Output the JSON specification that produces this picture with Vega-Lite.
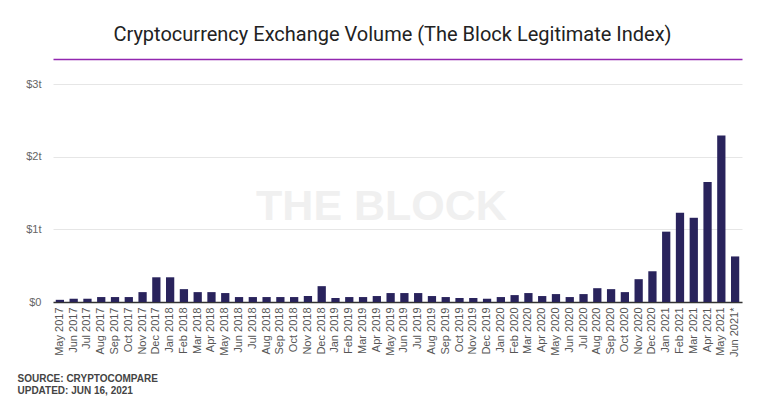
{
  "$schema": "https://vega.github.io/schema/vega-lite/v6.json",
  "autosize": {"type": "none"},
  "width": 689,
  "height": 218,
  "padding": {"left": 53, "top": 84, "right": 19, "bottom": 95},
  "background": "white",
  "title": {
    "text": "Cryptocurrency Exchange Volume (The Block Legitimate Index)",
    "anchor": "middle",
    "dx": -5,
    "offset": 14,
    "font": "Roboto",
    "fontSize": 20,
    "fontWeight": "normal",
    "color": "#222222"
  },
  "config": {
    "view": {"stroke": null},
    "font": "Liberation Sans"
  },
  "datasets": {
    "vol": [
      {"month": "May 2017", "v": 0.03},
      {"month": "Jun 2017", "v": 0.045},
      {"month": "Jul 2017", "v": 0.045},
      {"month": "Aug 2017", "v": 0.068},
      {"month": "Sep 2017", "v": 0.068},
      {"month": "Oct 2017", "v": 0.068},
      {"month": "Nov 2017", "v": 0.136},
      {"month": "Dec 2017", "v": 0.34},
      {"month": "Jan 2018", "v": 0.34},
      {"month": "Feb 2018", "v": 0.177},
      {"month": "Mar 2018", "v": 0.136},
      {"month": "Apr 2018", "v": 0.136},
      {"month": "May 2018", "v": 0.123},
      {"month": "Jun 2018", "v": 0.068},
      {"month": "Jul 2018", "v": 0.068},
      {"month": "Aug 2018", "v": 0.068},
      {"month": "Sep 2018", "v": 0.068},
      {"month": "Oct 2018", "v": 0.068},
      {"month": "Nov 2018", "v": 0.082},
      {"month": "Dec 2018", "v": 0.218},
      {"month": "Jan 2019", "v": 0.055},
      {"month": "Feb 2019", "v": 0.068},
      {"month": "Mar 2019", "v": 0.068},
      {"month": "Apr 2019", "v": 0.082},
      {"month": "May 2019", "v": 0.123},
      {"month": "Jun 2019", "v": 0.123},
      {"month": "Jul 2019", "v": 0.123},
      {"month": "Aug 2019", "v": 0.082},
      {"month": "Sep 2019", "v": 0.068},
      {"month": "Oct 2019", "v": 0.055},
      {"month": "Nov 2019", "v": 0.055},
      {"month": "Dec 2019", "v": 0.045},
      {"month": "Jan 2020", "v": 0.068},
      {"month": "Feb 2020", "v": 0.095},
      {"month": "Mar 2020", "v": 0.123},
      {"month": "Apr 2020", "v": 0.082},
      {"month": "May 2020", "v": 0.109},
      {"month": "Jun 2020", "v": 0.068},
      {"month": "Jul 2020", "v": 0.109},
      {"month": "Aug 2020", "v": 0.19},
      {"month": "Sep 2020", "v": 0.177},
      {"month": "Oct 2020", "v": 0.136},
      {"month": "Nov 2020", "v": 0.314},
      {"month": "Dec 2020", "v": 0.423},
      {"month": "Jan 2021", "v": 0.968},
      {"month": "Feb 2021", "v": 1.227},
      {"month": "Mar 2021", "v": 1.159},
      {"month": "Apr 2021", "v": 1.65},
      {"month": "May 2021", "v": 2.29},
      {"month": "Jun 2021*", "v": 0.627}
    ],
    "wm": [{"t": "THE BLOCK"}]
  },
  "resolve": {"axis": {"x": "independent"}},
  "layer": [
    {
      "data": {"name": "wm"},
      "mark": {"type": "text", "font": "Liberation Sans", "fontWeight": "bold", "fontSize": 43, "color": "#f0f0f0", "dx": -16, "dy": 14, "baseline": "middle", "align": "center"},
      "encoding": {"text": {"field": "t"}}
    },
    {
      "data": {"name": "vol"},
      "mark": {"type": "bar", "color": "#29235c"},
      "encoding": {
        "x": {
          "field": "month", "type": "ordinal", "sort": null,
          "scale": {"paddingInner": 0.4, "paddingOuter": 0.2},
          "axis": {
            "labelAngle": -90,
            "labelFontSize": 11,
            "labelColor": "#555555",
            "labelPadding": 5,
            "ticks": false,
            "domainColor": "#333333",
            "domainWidth": 1.5,
            "title": ["SOURCE: CRYPTOCOMPARE", "UPDATED: JUN 16, 2021"],
            "titleFont": "Liberation Sans",
            "titleFontSize": 10,
            "titleFontWeight": "bold",
            "titleColor": "#444444",
            "titleAnchor": "start",
            "titleAlign": "left",
            "titleBaseline": "alphabetic",
            "titleLineHeight": 12,
            "titleX": -36,
            "titleY": 79
          }
        },
        "y": {
          "field": "v", "type": "quantitative",
          "scale": {"domain": [0, 3]},
          "axis": {
            "values": [0, 1, 2, 3],
            "labelExpr": "datum.value == 0 ? '$0' : '$' + datum.value + 't'",
            "labelFontSize": 11,
            "labelColor": "#666666",
            "labelPadding": 12,
            "ticks": false,
            "domain": false,
            "gridColor": "#e6e6e6",
            "title": null
          }
        }
      }
    },
    {
      "data": {"name": "vol"},
      "mark": {"type": "tick", "opacity": 0},
      "encoding": {
        "x": {
          "field": "month", "type": "ordinal", "sort": null,
          "axis": {
            "orient": "top",
            "labels": false,
            "ticks": false,
            "title": null,
            "offset": 25,
            "domainColor": "#9227b0",
            "domainWidth": 1.5
          }
        }
      }
    }
  ]
}
